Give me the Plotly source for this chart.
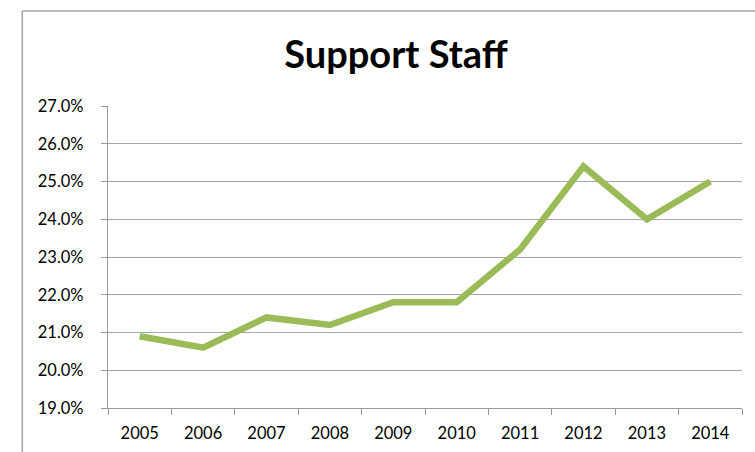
import plotly.graph_objects as go

years = ["2005", "2006", "2007", "2008", "2009", "2010", "2011", "2012", "2013", "2014"]
support_staff = [0.209, 0.206, 0.214, 0.212, 0.218, 0.218, 0.232, 0.254, 0.240, 0.250]
y_ticks = [0.19, 0.20, 0.21, 0.22, 0.23, 0.24, 0.25, 0.26, 0.27]

W, H = 755, 452
L, R, T, B = 107.7, 741.7, 106, 408

fig = go.Figure()
fig.add_trace(go.Scatter(
    x=years, y=support_staff, mode="lines",
    line=dict(color="#9BBB59", width=6.5),
    hoverinfo="skip", showlegend=False,
))

px_w = R - L
px_h = B - T
bx = (22 - L) / px_w
by = (B - 11) / px_h
fig.add_shape(type="line", xref="paper", yref="paper", x0=bx, x1=bx, y0=by, y1=-1,
              line=dict(color="#A6A6A6", width=1.5))
fig.add_shape(type="line", xref="paper", yref="paper", x0=bx, x1=2, y0=by, y1=by,
              line=dict(color="#A6A6A6", width=1.5))

fig.update_layout(
    width=W, height=H,
    margin=dict(l=L, r=W - R, t=T, b=H - B, pad=0, autoexpand=False),
    paper_bgcolor="white", plot_bgcolor="white",
    font=dict(family="Lato", color="#000000"),
    title=dict(text="<b>Support Staff</b>", x=396 / W,
               xanchor="center", y=1 - 55 / H, yanchor="middle",
               font=dict(family="Lato", size=38, color="#000000"), automargin=False),
    xaxis=dict(
        type="category", tickson="boundaries", ticks="outside", ticklen=6,
        tickcolor="#999999", showline=True, linecolor="#999999", linewidth=1.2,
        showgrid=False, tickfont=dict(size=16.5), ticklabelstandoff=10,
        range=[-0.5, 9.5], fixedrange=True, automargin=False,
    ),
    yaxis=dict(
        range=[0.19, 0.27], tickvals=y_ticks, tickformat=".1%",
        ticks="outside", ticklen=6, tickcolor="#999999",
        showline=True, linecolor="#999999", linewidth=1.2,
        showgrid=True, gridcolor="#A6A6A6", gridwidth=1.2,
        zeroline=False, tickfont=dict(size=16.5), ticklabelstandoff=14,
        fixedrange=True, automargin=False,
    ),
)

fig.write_html("out.html")
